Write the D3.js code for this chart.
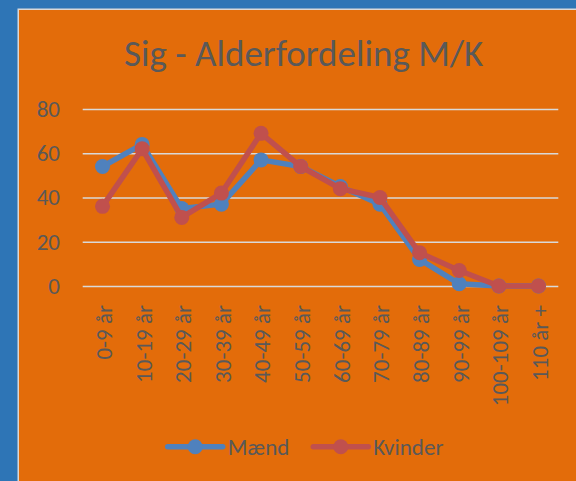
<!DOCTYPE html>
<html>
<head>
<meta charset="utf-8">
<script src="https://cdn.jsdelivr.net/npm/d3@7"></script>
<style>
  body { margin: 0; background: #2E75B6; }
  svg { display: block; }
  text { font-family: Carlito, Calibri, Lato, sans-serif; fill: #595959; }
</style>
</head>
<body>
<div id="chart"></div>
<script>
// ---------------- DATA ----------------
const categories = ["0-9 år", "10-19 år", "20-29 år", "30-39 år", "40-49 år", "50-59 år",
  "60-69 år", "70-79 år", "80-89 år", "90-99 år", "100-109 år", "110 år +"];
const maend   = [54, 64, 35, 37, 57, 54, 45, 37, 12, 1, 0, 0];
const kvinder = [36, 62, 31, 42, 69, 54, 44, 40, 15, 7, 0, 0];
const yTicks  = [0, 20, 40, 60, 80];
const seriesNames = ["Mænd", "Kvinder"];

const width = 576, height = 481;
const plot = {left: 82.7, right: 558.3, top: 109, bottom: 286};
const colors = {"Mænd": "#4F81BD", "Kvinder": "#C0504D"};
const labelSize = "23px";

const svg = d3.select("#chart")
  .append("svg")
  .attr("width", width)
  .attr("height", height);

// background: blue frame + orange chart area
svg.append("rect")
  .attr("width", width).attr("height", height)
  .attr("fill", "#2E75B6");
svg.append("rect")
  .attr("x", 18.25).attr("y", 9.25)
  .attr("width", width).attr("height", height)
  .attr("fill", "#E36C0A")
  .attr("stroke", "#D9D9D9")
  .attr("stroke-width", 1.5);

// title
svg.append("text")
  .attr("x", 303.7)
  .attr("y", 66)
  .attr("text-anchor", "middle")
  .style("font-size", "37px")
  .text("Sig - Alderfordeling M/K");

// scales
const x = d3.scalePoint()
  .domain(categories)
  .range([plot.left, plot.right])
  .padding(0.5);

const y = d3.scaleLinear()
  .domain([0, 80])
  .range([plot.bottom, plot.top]);

// gridlines + y labels
const yAxis = svg.append("g")
  .attr("transform", `translate(${plot.left},0)`)
  .call(d3.axisLeft(y).tickValues(yTicks).tickSize(-(plot.right - plot.left)).tickPadding(22.7));
yAxis.select(".domain").remove();
yAxis.selectAll(".tick line")
  .attr("stroke", "#D9D9D9")
  .attr("stroke-width", 1.5);
yAxis.selectAll(".tick text")
  .attr("fill", "#595959")
  .style("font-size", labelSize)
  .style("font-family", "Carlito, Calibri, Lato, sans-serif");

// x labels (rotated)
svg.append("g")
  .selectAll("text")
  .data(categories)
  .join("text")
  .attr("transform", d => `translate(${x(d) + 1.3},305) rotate(-90)`)
  .attr("text-anchor", "end")
  .attr("dy", "0.35em")
  .style("font-size", labelSize)
  .text(d => d);

// series
const seriesData = [maend, kvinder];
const line = d3.line()
  .x((d, i) => x(categories[i]))
  .y(d => y(d));

seriesNames.forEach((name, s) => {
  const vals = seriesData[s];
  const g = svg.append("g");
  g.append("path")
    .datum(vals)
    .attr("fill", "none")
    .attr("stroke", colors[name])
    .attr("stroke-width", 5.5)
    .attr("stroke-linejoin", "round")
    .attr("d", line);
  g.selectAll("circle")
    .data(vals)
    .join("circle")
    .attr("cx", (d, i) => x(categories[i]))
    .attr("cy", d => y(d))
    .attr("r", 7.5)
    .attr("fill", colors[name]);
});

// legend
const legendX = [167.7, 313.3];
const legendY = 446.7;
seriesNames.forEach((name, s) => {
  const g = svg.append("g").attr("transform", `translate(${legendX[s]},${legendY})`);
  g.append("line")
    .attr("x1", 0).attr("x2", 55)
    .attr("stroke", colors[name])
    .attr("stroke-width", 5.5)
    .attr("stroke-linecap", "round");
  g.append("circle")
    .attr("cx", 27.5)
    .attr("r", 7.5)
    .attr("fill", colors[name]);
  g.append("text")
    .attr("x", 60)
    .attr("dy", "0.36em")
    .style("font-size", labelSize)
    .text(name);
});
</script>
</body>
</html>
